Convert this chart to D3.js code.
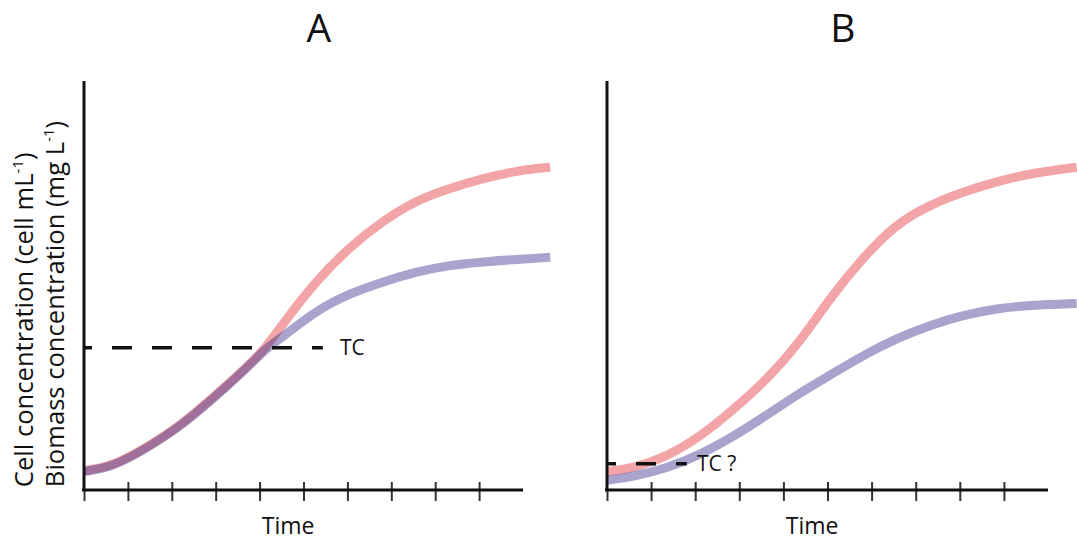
<!doctype html>
<html lang="en">
  <head>
    <meta charset="UTF-8" />
    <title>Growth curves A / B</title>
    <script src="https://d3js.org/d3.v7.min.js"></script>
    <style>
      body {
        margin: 0;
        background: #fff;
      }
      svg text {
        font-family: 'Open Sans', 'Noto Sans', sans-serif;
        fill: #111;
      }
      .curve {
        fill: none;
        stroke-width: 9;
        stroke-linecap: butt;
      }
    </style>
  </head>
  <body>
    <div id="chart"></div>
    <script>
      // data (arbitrary units, 0-10 on both axes)
      const panels = ['A', 'B'];
      const timeA = [0, 0.67, 1.43, 2.19, 2.95, 3.71, 4.16, 4.54, 5.3, 6.06, 6.82, 7.58, 8.34, 9.1, 9.86, 10.62];
      const cellA = [0.47, 0.59, 1.04, 1.57, 2.27, 3.0, 3.5, 4.08, 5.13, 5.95, 6.59, 7.09, 7.38, 7.62, 7.81, 7.89];
      const biomassA = [0.45, 0.57, 1.02, 1.55, 2.24, 2.98, 3.48, 3.75, 4.4, 4.81, 5.09, 5.34, 5.5, 5.58, 5.64, 5.69];
      const timeB = [0, 0.6, 1.35, 2.11, 2.86, 3.62, 4.38, 5.06, 5.82, 6.57, 7.32, 8.08, 8.84, 9.59, 10.65];
      const cellB = [0.45, 0.53, 0.81, 1.3, 1.96, 2.69, 3.62, 4.7, 5.7, 6.52, 6.97, 7.29, 7.54, 7.74, 7.89];
      const biomassB = [0.24, 0.33, 0.53, 0.86, 1.3, 1.83, 2.38, 2.81, 3.3, 3.71, 4.03, 4.28, 4.44, 4.52, 4.56];
      const timeTicks = [0, 1, 2, 3, 4, 5, 6, 7, 8, 9];
      // threshold concentration line: level, end of dashes, label position
      const tcLevel = [3.48, 0.64];
      const tcEnd = [5.44, 1.81];
      const tcLabelX = [5.83, 2.04];
      const tcLabels = ['TC', 'TC ?'];

      const W = 1077;
      const H = 540;
      const pink = '#f2a4a6';
      // translucent purple: reads #a8a4cd on white, mauve where it crosses pink
      const purple = 'rgb(53,43,139)';
      const purpleOpacity = 0.43;

      const svg = d3
        .select('#chart')
        .append('svg')
        .attr('width', W)
        .attr('height', H);

      const xRanges = [
        [84, 523],
        [607, 1048],
      ];
      const times = [timeA, timeB];
      const cells = [cellA, cellB];
      const biomass = [biomassA, biomassB];

      const yScale = d3.scaleLinear().domain([0, 10]).range([490, 81]);

      panels.forEach((name, i) => {
        const xScale = d3.scaleLinear().domain([0, 10]).range(xRanges[i]);
        const g = svg.append('g');

        // curves
        const line = d3
          .line()
          .x((d) => xScale(d[0]))
          .y((d) => yScale(d[1]))
          .curve(d3.curveBasis);

        g.append('path')
          .attr('class', 'curve')
          .attr('stroke', pink)
          .attr('d', line(d3.zip(times[i], cells[i])));
        g.append('path')
          .attr('class', 'curve')
          .attr('stroke', purple)
          .attr('stroke-opacity', purpleOpacity)
          .attr('d', line(d3.zip(times[i], biomass[i])));

        // TC dashed line
        g.append('line')
          .attr('x1', xScale(0))
          .attr('x2', xScale(tcEnd[i]))
          .attr('y1', yScale(tcLevel[i]))
          .attr('y2', yScale(tcLevel[i]))
          .attr('stroke', '#111')
          .attr('stroke-width', 3.5)
          .attr('stroke-dasharray', '20,20')
          .attr('stroke-dashoffset', i === 0 ? 12 : 11);
        g.append('text')
          .attr('x', xScale(tcLabelX[i]))
          .attr('y', yScale(tcLevel[i]))
          .attr('dy', '0.36em')
          .style('font-size', '21px')
          .text(tcLabels[i]);

        // x axis with ticks crossing the line
        const xAxis = g
          .append('g')
          .attr('transform', 'translate(0,' + yScale(0) + ')')
          .call(d3.axisBottom(xScale).tickValues(timeTicks).tickSize(11).tickFormat(''));
        xAxis.select('.domain').remove();
        xAxis
          .selectAll('.tick line')
          .attr('stroke', '#333')
          .attr('stroke-width', 2)
          .attr('y1', (d) => (d === 0 ? 0 : -8));
        g.append('line')
          .attr('x1', xScale(0) - 2)
          .attr('x2', xScale(10))
          .attr('y1', yScale(0))
          .attr('y2', yScale(0))
          .attr('stroke', '#111')
          .attr('stroke-width', 3);

        // y axis (no ticks)
        g.append('line')
          .attr('x1', xScale(0))
          .attr('x2', xScale(0))
          .attr('y1', yScale(10))
          .attr('y2', yScale(0))
          .attr('stroke', '#111')
          .attr('stroke-width', 3);

        // panel title
        g.append('text')
          .attr('x', xScale(5.35))
          .attr('y', 42)
          .attr('text-anchor', 'middle')
          .style('font-size', '39px')
          .text(name);

        // x label
        g.append('text')
          .attr('x', xScale(4.65))
          .attr('y', 534)
          .attr('text-anchor', 'middle')
          .style('font-size', '23px')
          .text('Time');
      });

      // y axis label, two lines
      const yLabel = svg
        .append('text')
        .attr('transform', 'translate(0,' + yScale(0.07) + ') rotate(-90)')
        .style('font-size', '25.6px');
      const l1 = yLabel.append('tspan').attr('x', 0).attr('y', 33);
      l1.append('tspan').text('Cell concentration (cell mL');
      l1.append('tspan').attr('dy', -10).style('font-size', '15px').text('-1');
      l1.append('tspan').attr('dy', 10).text(')');
      const l2 = yLabel.append('tspan').attr('x', 0).attr('y', 64);
      l2.append('tspan').text('Biomass concentration (mg L');
      l2.append('tspan').attr('dy', -10).style('font-size', '15px').text('-1');
      l2.append('tspan').attr('dy', 10).text(')');
    </script>
  </body>
</html>
